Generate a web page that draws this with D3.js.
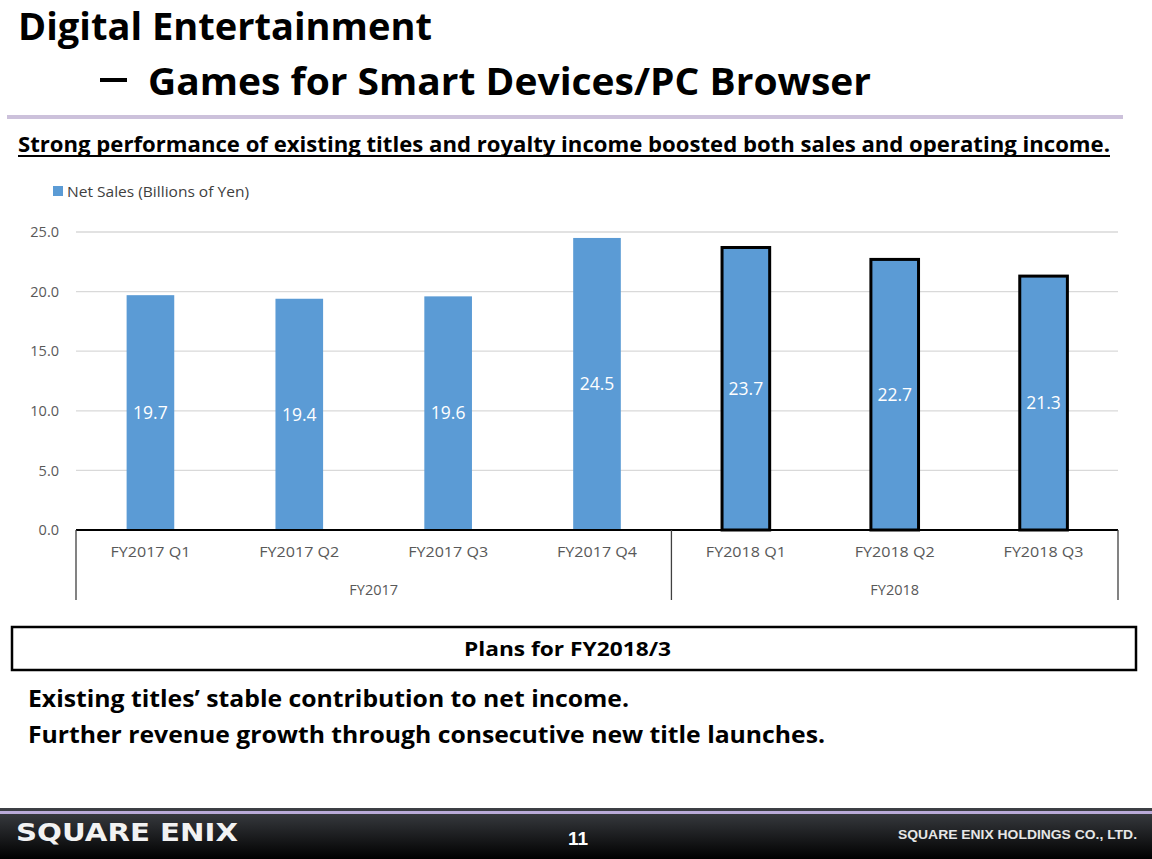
<!DOCTYPE html>
<html><head><meta charset="utf-8">
<script src="https://cdn.jsdelivr.net/npm/d3@7"></script>
<style>html,body{margin:0;padding:0;background:#fff;}svg{display:block;}</style>
</head><body>
<script>
const categories = ["FY2017 Q1","FY2017 Q2","FY2017 Q3","FY2017 Q4","FY2018 Q1","FY2018 Q2","FY2018 Q3"];
const netSales = [19.7, 19.4, 19.6, 24.5, 23.7, 22.7, 21.3];
const outlined = [false, false, false, false, true, true, true];
const groups = [{name:"FY2017", from:0, to:3},{name:"FY2018", from:4, to:6}];
const yTicks = [0, 5, 10, 15, 20, 25];
const seriesName = "Net Sales (Billions of Yen)";

const W = 1152, H = 859;
const svg = d3.select("body").append("svg").attr("width", W).attr("height", H);
const defs = svg.append("defs");
const grad = defs.append("linearGradient").attr("id","foot").attr("x1",0).attr("y1",0).attr("x2",0).attr("y2",1);
grad.append("stop").attr("offset","0%").attr("stop-color","#3d4045");
grad.append("stop").attr("offset","100%").attr("stop-color","#000");

const bold = "'Open Sans', Lato, sans-serif";
function fitText(sel, w){ sel.attr("textLength", w).attr("lengthAdjust","spacingAndGlyphs"); return sel; }

// Title
fitText(svg.append("text").attr("x",18).attr("y",40).attr("font-family",bold).attr("font-weight",700)
  .attr("font-size",37).attr("fill","#000").text("Digital Entertainment"), 414);
svg.append("rect").attr("x",100).attr("y",78).attr("width",27).attr("height",4).attr("fill","#000");
fitText(svg.append("text").attr("x",148).attr("y",95).attr("font-family",bold).attr("font-weight",700)
  .attr("font-size",38).attr("fill","#000").text("Games for Smart Devices/PC Browser"), 723);
svg.append("rect").attr("x",7).attr("y",115).attr("width",1116).attr("height",4).attr("fill","#ccc1db");

// Subtitle
fitText(svg.append("text").attr("x",18).attr("y",152).attr("font-family",bold).attr("font-weight",700)
  .attr("font-size",21).attr("fill","#000").text("Strong performance of existing titles and royalty income boosted both sales and operating income."), 1092);
svg.append("rect").attr("x",18).attr("y",155).attr("width",1092).attr("height",2).attr("fill","#000");

// Chart
const x = d3.scaleBand().domain(categories).range([76, 1118]).paddingInner(0.68).paddingOuter(0.34);
const y = d3.scaleLinear().domain([0, 25]).range([530, 232]);
const axisFont = "'Open Sans', 'Noto Sans', sans-serif";

const g = svg.append("g");
g.selectAll("line.grid").data(yTicks.filter(t=>t>0)).join("line")
  .attr("x1",76).attr("x2",1118).attr("y1",d=>y(d)).attr("y2",d=>y(d))
  .attr("stroke","#d9d9d9").attr("stroke-width",1.3);

const yAxis = g.append("g").attr("transform","translate(76,0)")
  .call(d3.axisLeft(y).tickValues(yTicks).tickFormat(d3.format(".1f")).tickSize(0).tickPadding(17));
yAxis.select(".domain").remove();
yAxis.selectAll("text").attr("font-family",axisFont).attr("font-size",14.5).attr("fill","#595959");

g.selectAll("rect.bar").data(netSales).join("rect")
  .attr("x",(d,i)=>x(categories[i])).attr("width",x.bandwidth())
  .attr("y",d=>y(d)).attr("height",d=>y(0)-y(d))
  .attr("fill","#5b9bd5")
  .attr("stroke",(d,i)=>outlined[i]?"#000":"none").attr("stroke-width",3);

g.selectAll("text.val").data(netSales).join("text")
  .attr("x",(d,i)=>x(categories[i])+x.bandwidth()/2)
  .attr("y",d=>(y(d)+y(0))/2).attr("dy","0.35em").attr("text-anchor","middle")
  .attr("font-family",axisFont).attr("font-size",17.5).attr("fill","#fff").text(d=>d3.format(".1f")(d));

// x axis line
g.append("line").attr("x1",76).attr("x2",1118).attr("y1",y(0)).attr("y2",y(0)).attr("stroke","#000").attr("stroke-width",2);
// category labels
const xAxis = g.append("g").attr("transform",`translate(0,${y(0)})`)
  .call(d3.axisBottom(x).tickSize(0).tickPadding(17));
xAxis.select(".domain").remove();
xAxis.selectAll("text").attr("font-family",axisFont).attr("font-size",14.5).attr("fill","#595959")
  .attr("textLength",80).attr("lengthAdjust","spacingAndGlyphs");

// group separators
const step = x.step();
const bounds = [76, 76 + step*4, 1118];
g.selectAll("line.sep").data(bounds).join("line")
  .attr("x1",d=>d).attr("x2",d=>d).attr("y1",y(0)).attr("y2",600)
  .attr("stroke","#404040").attr("stroke-width",1.3);
g.selectAll("text.grp").data(groups).join("text")
  .attr("x",d=>(x(categories[d.from]) + x(categories[d.to]) + x.bandwidth())/2)
  .attr("y",595).attr("text-anchor","middle")
  .attr("font-family",axisFont).attr("font-size",14.5).attr("fill","#595959").text(d=>d.name);

// legend
g.append("rect").attr("x",53).attr("y",186).attr("width",10).attr("height",10).attr("fill","#5b9bd5");
fitText(g.append("text").attr("x",67).attr("y",197).attr("font-family",axisFont).attr("font-size",15)
  .attr("fill","#404040").text(seriesName), 182);

// Plans box
svg.append("rect").attr("x",12).attr("y",627).attr("width",1124).attr("height",43)
  .attr("fill","#fff").attr("stroke","#000").attr("stroke-width",2.5);
fitText(svg.append("text").attr("x",464).attr("y",656).attr("font-family",bold).attr("font-weight",700)
  .attr("font-size",20).attr("fill","#000").text("Plans for FY2018/3"), 207);

fitText(svg.append("text").attr("x",28).attr("y",707).attr("font-family",bold).attr("font-weight",700)
  .attr("font-size",24).attr("fill","#000").text("Existing titles\u2019 stable contribution to net income."), 601);
fitText(svg.append("text").attr("x",28).attr("y",743).attr("font-family",bold).attr("font-weight",700)
  .attr("font-size",24).attr("fill","#000").text("Further revenue growth through consecutive new title launches."), 797);

// Footer
svg.append("rect").attr("x",0).attr("y",808).attr("width",W).attr("height",H-808).attr("fill","url(#foot)");
svg.append("rect").attr("x",0).attr("y",811).attr("width",W).attr("height",3).attr("fill","#b9aad8");
fitText(svg.append("text").attr("x",16).attr("y",841).attr("font-family","'DejaVu Sans', sans-serif").attr("font-weight",700)
  .attr("font-size",25).attr("fill","#f2f2f2").text("SQUARE ENIX"), 222);
svg.append("text").attr("x",578).attr("y",845).attr("text-anchor","middle").attr("font-family","'Liberation Sans Narrow','Liberation Sans',sans-serif").attr("font-weight",700)
  .attr("font-size",19).attr("fill","#fff").text("11");
fitText(svg.append("text").attr("x",898).attr("y",839).attr("font-family","'Liberation Sans',sans-serif").attr("font-weight",700)
  .attr("font-size",13).attr("fill","#e6e6e6").text("SQUARE ENIX HOLDINGS CO., LTD."), 239);
</script>
</body></html>
